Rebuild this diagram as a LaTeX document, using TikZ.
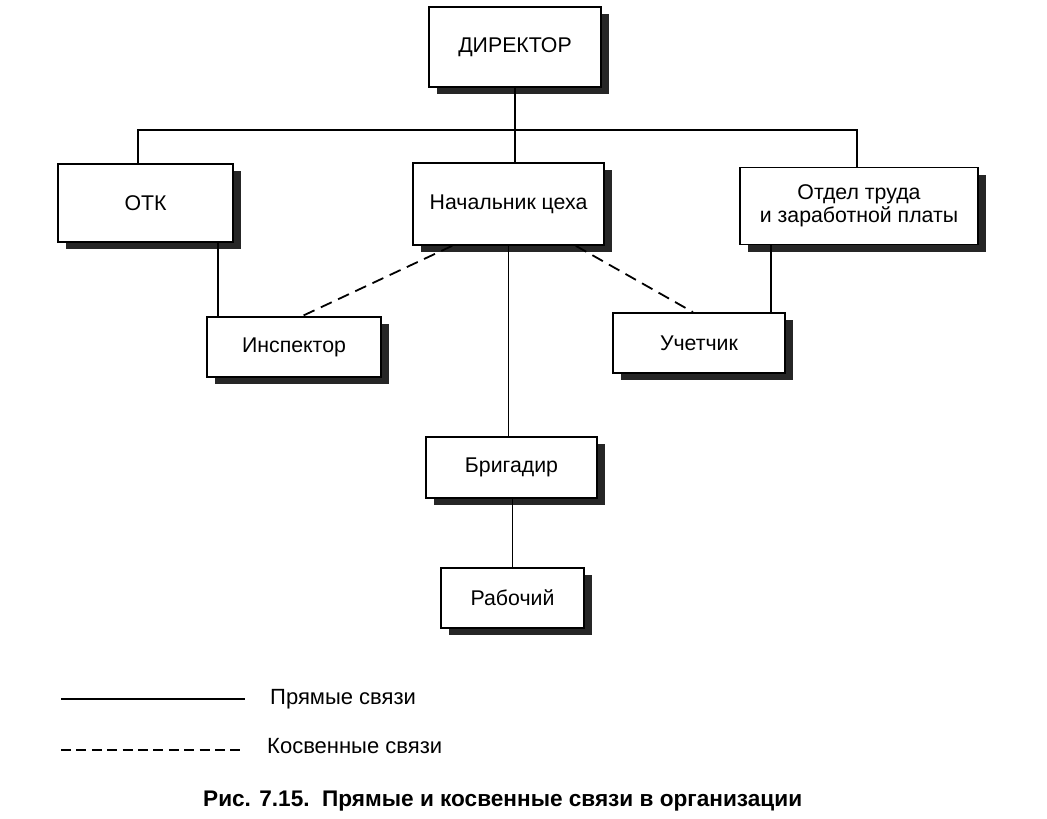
\documentclass[tikz,border=0pt]{standalone}
\usepackage{fontspec}
\setmainfont{Liberation Sans}
\usetikzlibrary{shadows}
\tikzset{
  unit/.style={draw, fill=white, line width=1.7pt, inner sep=0pt, align=center,
    minimum height=60pt, font=\fontsize{21.3}{23.5}\selectfont,
    drop shadow={shadow xshift=8pt, shadow yshift=-7pt, fill=black!85, opacity=1}},
  direct/.style={line width=1.5pt},
  indirect/.style={line width=1.8pt, dash pattern=on 12pt off 7pt},
  legend/.style={anchor=base west, inner sep=0pt, font=\fontsize{22}{24}\selectfont}
}
\begin{document}
\begin{tikzpicture}[x=1pt,y=-1pt]
  \useasboundingbox (0,0) rectangle (1047,819);
  \node[unit, minimum width=172pt, minimum height=80pt] (dir) at (515,47) {ДИРЕКТОР};
  \node[unit, minimum width=175pt, minimum height=78pt] (otk) at (145.5,203) {ОТК};
  \node[unit, minimum width=191pt, minimum height=82pt] (nach) at (508.5,204) {Начальник цеха};
  \node[unit, minimum width=238pt, minimum height=77pt] (otdel) at (859,206) {Отдел труда\\и заработной платы};
  \node[unit, minimum width=174pt] (insp) at (294,347) {Инспектор};
  \node[unit, minimum width=172pt] (uchet) at (699,343) {Учетчик};
  \node[unit, minimum width=171pt, minimum height=61pt] (brig) at (511.5,467.5) {Бригадир};
  \node[unit, minimum width=143pt] (rab) at (512.5,598) {Рабочий};
  \coordinate (busL) at (138,130);
  \coordinate (busR) at (857,130);
  \begin{scope}[direct]
    \draw (busL |- otk.north) -- (busL) -- (busR) -- (busR |- otdel.north);
    \draw (dir.south) -- (dir.south |- nach.north);
    \draw ([xshift=12pt]insp.north west) -- ([xshift=12pt]insp.north west |- otk.south);
    \draw ([xshift=-15pt]uchet.north east) -- ([xshift=-15pt]uchet.north east |- otdel.south);
    \draw (nach.south) -- (nach.south |- brig.north);
    \draw (rab.north) -- (rab.north |- brig.south);
  \end{scope}
  \begin{scope}[indirect]
    \draw ([xshift=40pt]nach.south west) -- ([xshift=8pt]insp.north);
    \draw ([xshift=-29pt]nach.south east) -- ([xshift=-6pt]uchet.north);
  \end{scope}
  \coordinate (d1) at (61,699);
  \coordinate (d2) at (245,699);
  \coordinate (i1) at (61,750);
  \coordinate (i2) at (245,750);
  \draw[direct] (d1) -- (d2);
  \draw[indirect, dash pattern=on 10pt off 5.4pt] (i1) -- (i2);
  \node[legend] (dlab) at (270,704) {Прямые связи};
  \node[legend] (ilab) at (267,753) {Косвенные связи};
  \node[legend, font=\fontsize{22.6}{24}\selectfont\bfseries] (cap) at (203,806)
    {Рис. 7.15.\ \ Прямые и косвенные связи в организации};
\end{tikzpicture}
\end{document}
